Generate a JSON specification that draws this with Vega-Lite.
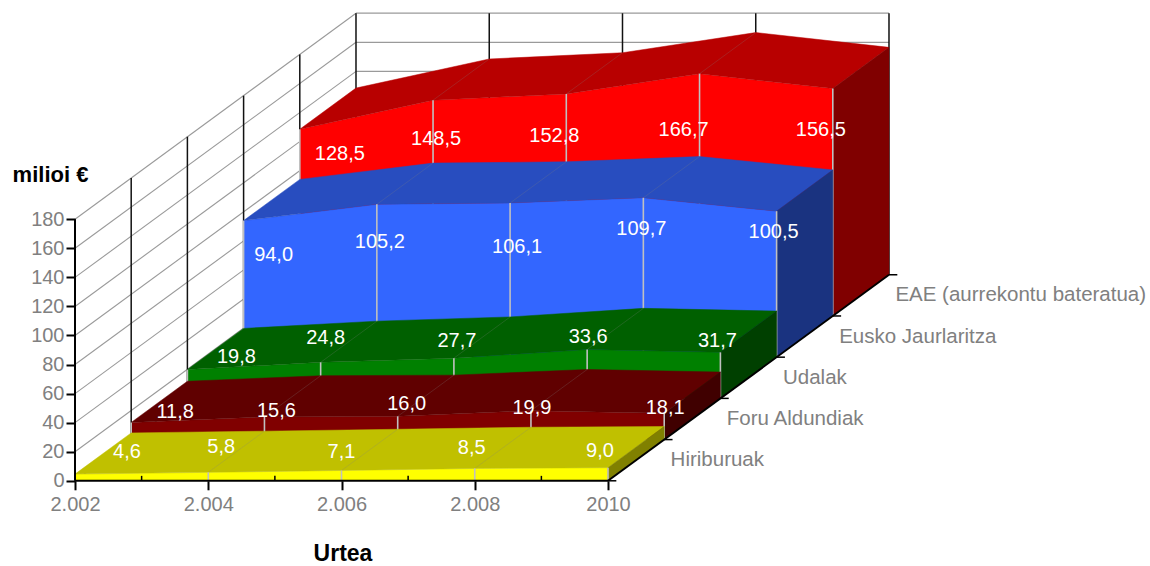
{
"$schema":"https://vega.github.io/schema/vega-lite/v6.json",
"width":1150,"height":566,"autosize":{"type":"none"},"padding":0,"background":"white",
"config":{"view":{"stroke":null},"font":"Liberation Sans"},
"datasets":{
"rows":[
{"series":"Hiriburuak","year":2002,"value":4.6},{"series":"Hiriburuak","year":2004,"value":5.8},{"series":"Hiriburuak","year":2006,"value":7.1},{"series":"Hiriburuak","year":2008,"value":8.5},{"series":"Hiriburuak","year":2010,"value":9.0},
{"series":"Foru Aldundiak","year":2002,"value":11.8},{"series":"Foru Aldundiak","year":2004,"value":15.6},{"series":"Foru Aldundiak","year":2006,"value":16.0},{"series":"Foru Aldundiak","year":2008,"value":19.9},{"series":"Foru Aldundiak","year":2010,"value":18.1},
{"series":"Udalak","year":2002,"value":19.8},{"series":"Udalak","year":2004,"value":24.8},{"series":"Udalak","year":2006,"value":27.7},{"series":"Udalak","year":2008,"value":33.6},{"series":"Udalak","year":2010,"value":31.7},
{"series":"Eusko Jaurlaritza","year":2002,"value":94.0},{"series":"Eusko Jaurlaritza","year":2004,"value":105.2},{"series":"Eusko Jaurlaritza","year":2006,"value":106.1},{"series":"Eusko Jaurlaritza","year":2008,"value":109.7},{"series":"Eusko Jaurlaritza","year":2010,"value":100.5},
{"series":"EAE (aurrekontu bateratua)","year":2002,"value":128.5},{"series":"EAE (aurrekontu bateratua)","year":2004,"value":148.5},{"series":"EAE (aurrekontu bateratua)","year":2006,"value":152.8},{"series":"EAE (aurrekontu bateratua)","year":2008,"value":166.7},{"series":"EAE (aurrekontu bateratua)","year":2010,"value":156.5}
],
"levels":[{"v":0},{"v":20},{"v":40},{"v":60},{"v":80},{"v":100},{"v":120},{"v":140},{"v":160},{"v":180}],
"depths":[{"d":0},{"d":1},{"d":2},{"d":3},{"d":4},{"d":5}],
"years":[{"y":2002},{"y":2003},{"y":2004},{"y":2005},{"y":2006},{"y":2007},{"y":2008},{"y":2009},{"y":2010}]
},
"data":{"name":"rows"},
"transform":[
{"calculate":"indexof(['Hiriburuak','Foru Aldundiak','Udalak','Eusko Jaurlaritza','EAE (aurrekontu bateratua)'],datum.series)","as":"depth"},
{"calculate":"datum.year+0.8435*datum.depth","as":"sx"},
{"calculate":"datum.value+28.36*datum.depth","as":"sy"},
{"calculate":"28.36*datum.depth","as":"sy0"},
{"calculate":"datum.sx+0.8435","as":"sxb"},
{"calculate":"datum.sy+28.36","as":"syb"},
{"calculate":"datum.sy0+28.36","as":"sy0b"}
],
"encoding":{
"x":{"field":"sx","type":"quantitative","scale":{"domain":[2000.8743,2018.135],"nice":false,"zero":false},
"axis":{"orient":"bottom","offset":-85.2,"values":[2002,2004,2006,2008,2010],"grid":false,"domain":false,"tickColor":"#000000","tickWidth":2,"tickSize":9,"labelFontSize":20,"labelColor":"#808080","labelFont":"Liberation Sans","labelPadding":5,"labelOverlap":false,"labelFlush":false,"labelExpr":"datum.value==2010?'2010':replace(format(datum.value,','),',','.')","title":"Urtea","titleFont":"Liberation Sans","titleFontSize":23,"titleFontWeight":"bold","titleColor":"#000000","titleX":342.5,"titleY":73,"titleAlign":"center","titleBaseline":"middle","zindex":1}},
"y":{"field":"sy","type":"quantitative","scale":{"domain":[-58.64,330.9],"nice":false,"zero":false},
"axis":{"orient":"left","offset":-75,"values":[0,20,40,60,80,100,120,140,160,180],"grid":false,"domain":false,"tickColor":"#000000","tickWidth":2,"tickSize":9,"labelFontSize":20,"labelColor":"#808080","labelFont":"Liberation Sans","labelPadding":2,"labelOverlap":false,"labelFlush":false,"title":"milioi €","titleFont":"Liberation Sans","titleFontSize":22,"titleFontWeight":"bold","titleColor":"#000000","titleAngle":0,"titleX":-25,"titleY":174,"titleAlign":"center","titleBaseline":"middle","zindex":1}}
},
"layer":[
{"data":{"name":"levels"},"transform":[{"calculate":"2002","as":"sx"},{"calculate":"2002+4.2175","as":"sx2"},{"calculate":"datum.v","as":"sy"},{"calculate":"datum.v+141.8","as":"sy2"}],"mark":{"type":"rule","stroke":"#9a9a9a","strokeWidth":1.1},"encoding":{"x2":{"field":"sx2"},"y2":{"field":"sy2"}}},
{"data":{"name":"levels"},"transform":[{"calculate":"2002+4.2175","as":"sx"},{"calculate":"2010+4.2175","as":"sx2"},{"calculate":"datum.v+141.8","as":"sy"}],"mark":{"type":"rule","stroke":"#9a9a9a","strokeWidth":1.3},"encoding":{"x2":{"field":"sx2"},"y2":{"field":"sy"}}},
{"data":{"name":"depths"},"transform":[{"calculate":"2002+0.8435*datum.d","as":"sx"},{"calculate":"28.36*datum.d","as":"sy"},{"calculate":"180+28.36*datum.d","as":"sy2"}],"mark":{"type":"rule","stroke":"#111111","strokeWidth":1.5},"encoding":{"y2":{"field":"sy2"}}},
{"data":{"name":"years"},"transform":[{"filter":"datum.y%2==0 && datum.y>2002"},{"calculate":"datum.y+4.2175","as":"sx"},{"calculate":"141.8","as":"sy"},{"calculate":"321.8","as":"sy2"}],"mark":{"type":"rule","stroke":"#111111","strokeWidth":1.5},"encoding":{"y2":{"field":"sy2"}}},

{"transform":[{"filter":"datum.depth==4"}],"layer":[
{"mark":{"type":"area","fill":"#ff0000"},"encoding":{"y2":{"field":"sy0"}}},
{"transform":[{"calculate":"[0,1]","as":"c"},{"flatten":["c"]},{"calculate":"datum.c==0?datum.year:4040-datum.year","as":"ord"},{"calculate":"datum.c==0?datum.sx:datum.sxb","as":"sx"},{"calculate":"datum.c==0?datum.sy:datum.syb","as":"sy"}],"mark":{"type":"line","fill":"#b80000","stroke":"#b80000","strokeWidth":0.5,"interpolate":"linear-closed"},"encoding":{"order":{"field":"ord","type":"quantitative"}}},
{"transform":[{"filter":"datum.year==2010"},{"calculate":"[0,1,2,3]","as":"c"},{"flatten":["c"]},{"calculate":"datum.c==0?datum.sy0:datum.c==1?datum.sy:datum.c==2?datum.syb:datum.sy0b","as":"sy"},{"calculate":"datum.c<2?datum.sx:datum.sxb","as":"sx"}],"mark":{"type":"line","fill":"#800000","stroke":"#800000","strokeWidth":0.5,"interpolate":"linear-closed"},"encoding":{"order":{"field":"c","type":"quantitative"}}},
{"transform":[{"filter":"datum.year>2002 && datum.year<2010"}],"mark":{"type":"rule","stroke":"#808080","strokeWidth":0.7,"opacity":0.35},"encoding":{"x2":{"field":"sxb"},"y2":{"field":"syb"}}},
{"mark":{"type":"rule","stroke":"#c0c0c0","strokeWidth":1.6},"encoding":{"y2":{"field":"sy0"}}}
]},
{"transform":[{"filter":"datum.depth==3"}],"layer":[
{"mark":{"type":"area","fill":"#3366ff"},"encoding":{"y2":{"field":"sy0"}}},
{"transform":[{"calculate":"[0,1]","as":"c"},{"flatten":["c"]},{"calculate":"datum.c==0?datum.year:4040-datum.year","as":"ord"},{"calculate":"datum.c==0?datum.sx:datum.sxb","as":"sx"},{"calculate":"datum.c==0?datum.sy:datum.syb","as":"sy"}],"mark":{"type":"line","fill":"#284dbf","stroke":"#284dbf","strokeWidth":0.5,"interpolate":"linear-closed"},"encoding":{"order":{"field":"ord","type":"quantitative"}}},
{"transform":[{"filter":"datum.year==2010"},{"calculate":"[0,1,2,3]","as":"c"},{"flatten":["c"]},{"calculate":"datum.c==0?datum.sy0:datum.c==1?datum.sy:datum.c==2?datum.syb:datum.sy0b","as":"sy"},{"calculate":"datum.c<2?datum.sx:datum.sxb","as":"sx"}],"mark":{"type":"line","fill":"#1a3380","stroke":"#1a3380","strokeWidth":0.5,"interpolate":"linear-closed"},"encoding":{"order":{"field":"c","type":"quantitative"}}},
{"transform":[{"filter":"datum.year>2002 && datum.year<2010"}],"mark":{"type":"rule","stroke":"#808080","strokeWidth":0.7,"opacity":0.35},"encoding":{"x2":{"field":"sxb"},"y2":{"field":"syb"}}},
{"mark":{"type":"rule","stroke":"#c0c0c0","strokeWidth":1.6},"encoding":{"y2":{"field":"sy0"}}}
]},
{"transform":[{"filter":"datum.depth==2"}],"layer":[
{"mark":{"type":"area","fill":"#008000"},"encoding":{"y2":{"field":"sy0"}}},
{"transform":[{"calculate":"[0,1]","as":"c"},{"flatten":["c"]},{"calculate":"datum.c==0?datum.year:4040-datum.year","as":"ord"},{"calculate":"datum.c==0?datum.sx:datum.sxb","as":"sx"},{"calculate":"datum.c==0?datum.sy:datum.syb","as":"sy"}],"mark":{"type":"line","fill":"#006000","stroke":"#006000","strokeWidth":0.5,"interpolate":"linear-closed"},"encoding":{"order":{"field":"ord","type":"quantitative"}}},
{"transform":[{"filter":"datum.year==2010"},{"calculate":"[0,1,2,3]","as":"c"},{"flatten":["c"]},{"calculate":"datum.c==0?datum.sy0:datum.c==1?datum.sy:datum.c==2?datum.syb:datum.sy0b","as":"sy"},{"calculate":"datum.c<2?datum.sx:datum.sxb","as":"sx"}],"mark":{"type":"line","fill":"#004000","stroke":"#004000","strokeWidth":0.5,"interpolate":"linear-closed"},"encoding":{"order":{"field":"c","type":"quantitative"}}},
{"transform":[{"filter":"datum.year>2002 && datum.year<2010"}],"mark":{"type":"rule","stroke":"#808080","strokeWidth":0.7,"opacity":0.35},"encoding":{"x2":{"field":"sxb"},"y2":{"field":"syb"}}},
{"mark":{"type":"rule","stroke":"#c0c0c0","strokeWidth":1.6},"encoding":{"y2":{"field":"sy0"}}}
]},
{"transform":[{"filter":"datum.depth==1"}],"layer":[
{"mark":{"type":"area","fill":"#800000"},"encoding":{"y2":{"field":"sy0"}}},
{"transform":[{"calculate":"[0,1]","as":"c"},{"flatten":["c"]},{"calculate":"datum.c==0?datum.year:4040-datum.year","as":"ord"},{"calculate":"datum.c==0?datum.sx:datum.sxb","as":"sx"},{"calculate":"datum.c==0?datum.sy:datum.syb","as":"sy"}],"mark":{"type":"line","fill":"#600000","stroke":"#600000","strokeWidth":0.5,"interpolate":"linear-closed"},"encoding":{"order":{"field":"ord","type":"quantitative"}}},
{"transform":[{"filter":"datum.year==2010"},{"calculate":"[0,1,2,3]","as":"c"},{"flatten":["c"]},{"calculate":"datum.c==0?datum.sy0:datum.c==1?datum.sy:datum.c==2?datum.syb:datum.sy0b","as":"sy"},{"calculate":"datum.c<2?datum.sx:datum.sxb","as":"sx"}],"mark":{"type":"line","fill":"#400000","stroke":"#400000","strokeWidth":0.5,"interpolate":"linear-closed"},"encoding":{"order":{"field":"c","type":"quantitative"}}},
{"transform":[{"filter":"datum.year>2002 && datum.year<2010"}],"mark":{"type":"rule","stroke":"#808080","strokeWidth":0.7,"opacity":0.35},"encoding":{"x2":{"field":"sxb"},"y2":{"field":"syb"}}},
{"mark":{"type":"rule","stroke":"#c0c0c0","strokeWidth":1.6},"encoding":{"y2":{"field":"sy0"}}}
]},
{"transform":[{"filter":"datum.depth==0"}],"layer":[
{"mark":{"type":"area","fill":"#ffff00"},"encoding":{"y2":{"field":"sy0"}}},
{"transform":[{"calculate":"[0,1]","as":"c"},{"flatten":["c"]},{"calculate":"datum.c==0?datum.year:4040-datum.year","as":"ord"},{"calculate":"datum.c==0?datum.sx:datum.sxb","as":"sx"},{"calculate":"datum.c==0?datum.sy:datum.syb","as":"sy"}],"mark":{"type":"line","fill":"#c0c000","stroke":"#c0c000","strokeWidth":0.5,"interpolate":"linear-closed"},"encoding":{"order":{"field":"ord","type":"quantitative"}}},
{"transform":[{"filter":"datum.year==2010"},{"calculate":"[0,1,2,3]","as":"c"},{"flatten":["c"]},{"calculate":"datum.c==0?datum.sy0:datum.c==1?datum.sy:datum.c==2?datum.syb:datum.sy0b","as":"sy"},{"calculate":"datum.c<2?datum.sx:datum.sxb","as":"sx"}],"mark":{"type":"line","fill":"#808000","stroke":"#808000","strokeWidth":0.5,"interpolate":"linear-closed"},"encoding":{"order":{"field":"c","type":"quantitative"}}},
{"transform":[{"filter":"datum.year>2002 && datum.year<2010"}],"mark":{"type":"rule","stroke":"#808080","strokeWidth":0.7,"opacity":0.35},"encoding":{"x2":{"field":"sxb"},"y2":{"field":"syb"}}},
{"mark":{"type":"rule","stroke":"#c0c0c0","strokeWidth":1.6},"encoding":{"y2":{"field":"sy0"}}}
]},

{"data":{"name":"years"},"transform":[{"filter":"datum.y==2002"},{"calculate":"2002","as":"sx"},{"calculate":"2010","as":"sx2"},{"calculate":"0","as":"sy"}],"mark":{"type":"rule","stroke":"#000000","strokeWidth":2},"encoding":{"x2":{"field":"sx2"},"y2":{"field":"sy"}}},
{"data":{"name":"years"},"transform":[{"filter":"datum.y==2002"},{"calculate":"2002","as":"sx"},{"calculate":"0","as":"sy"},{"calculate":"180","as":"sy2"}],"mark":{"type":"rule","stroke":"#000000","strokeWidth":2},"encoding":{"y2":{"field":"sy2"}}},
{"data":{"name":"years"},"transform":[{"filter":"datum.y==2010"},{"calculate":"2010","as":"sx"},{"calculate":"2014.2175","as":"sx2"},{"calculate":"0","as":"sy"},{"calculate":"141.8","as":"sy2"}],"mark":{"type":"rule","stroke":"#000000","strokeWidth":2},"encoding":{"x2":{"field":"sx2"},"y2":{"field":"sy2"}}},
{"data":{"name":"years"},"transform":[{"filter":"datum.y%2==1"},{"calculate":"datum.y","as":"sx"},{"calculate":"0","as":"sy"},{"calculate":"3.4","as":"sy2"}],"mark":{"type":"rule","stroke":"#000000","strokeWidth":1.5},"encoding":{"y2":{"field":"sy2"}}},
{"data":{"name":"depths"},"transform":[{"calculate":"2010+0.8435*datum.d","as":"sx"},{"calculate":"datum.sx+0.125","as":"sx2"},{"calculate":"28.36*datum.d","as":"sy"}],"mark":{"type":"rule","stroke":"#000000","strokeWidth":1.5},"encoding":{"x2":{"field":"sx2"},"y2":{"field":"sy"}}},

{"transform":[{"filter":"datum.year==2010"},{"calculate":"datum.sx+0.42175+34.5/66.625","as":"sx"},{"calculate":"datum.sy0+14.18","as":"sy"}],"mark":{"type":"text","align":"left","baseline":"middle","fontSize":20.5,"font":"Liberation Sans","fill":"#808080"},"encoding":{"text":{"field":"series"}}},
{"transform":[
{"calculate":"[[52,13,0,-3,-8],[44,12,9,1,1],[49,5,3,1,-3],[30,3,7,-2,-3],[40,3,-12,-16,-12]][datum.depth][(datum.year-2002)/2]","as":"ldx"},
{"calculate":"[[-22,-25,-18,-20,-17],[-10,-6,-12,-3,-5],[-13,-24,-17,-13,-11],[34,38,44,31,21],[25,39,42,56,41]][datum.depth][(datum.year-2002)/2]","as":"ldy"},
{"calculate":"datum.sx+datum.ldx/66.625","as":"sx"},
{"calculate":"datum.sy-datum.ldy/1.453","as":"sy"},
{"calculate":"replace(format(datum.value,'.1f'),'.',',')","as":"lab"}
],"mark":{"type":"text","align":"center","baseline":"middle","fontSize":20,"font":"Liberation Sans","fill":"#ffffff"},"encoding":{"text":{"field":"lab"}}}
]
}
